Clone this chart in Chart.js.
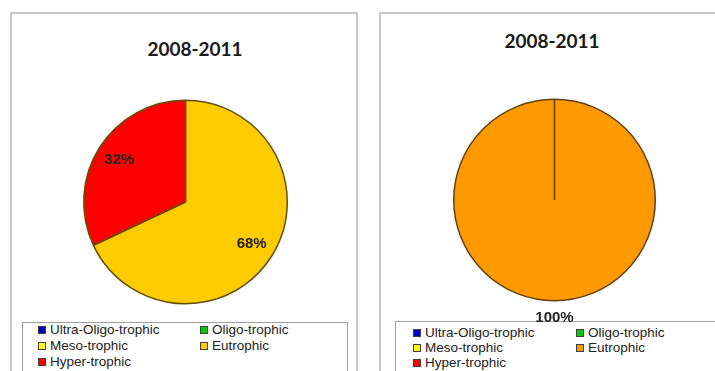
<!DOCTYPE html>
<html>
<head>
<meta charset="utf-8">
<script src="https://cdn.jsdelivr.net/npm/chart.js@4.4.0/dist/chart.umd.min.js"></script>
<style>
  body { margin: 0; background: #fff; width: 715px; height: 371px; overflow: hidden; position: relative;
         font-family: "Liberation Sans", Arial, sans-serif; }
  .panel { position: absolute; border: 2px solid #c8c8c8; background: #fff; box-sizing: border-box; }
  .title { position: absolute; font: bold 19px Lato, sans-serif; color: #1a1a1a;
           transform: translate(-50%, -50%); white-space: nowrap; }
  .legend { position: absolute; border: 1px solid #a0a0a0; background: #fff; box-sizing: border-box; }
  .item { position: absolute; font-size: 13.5px; line-height: 16px; color: #222; white-space: nowrap; }
  .item i { position: absolute; left: -12px; top: 4px; width: 6px; height: 6px; border: 1px solid #404040; }
  canvas { position: absolute; top: 0; }
</style>
</head>
<body>
<div class="panel" style="left:10px;top:12px;width:348px;height:400px"></div>
<div class="panel" style="left:379px;top:12px;width:400px;height:400px"></div>
<div class="legend" style="left:22px;top:322px;width:326px;height:70px"></div>
<div class="legend" style="left:395px;top:321px;width:340px;height:70px"></div>
<div class="title" style="left:195px;top:48px">2008-2011</div>
<div class="title" style="left:552px;top:40px">2008-2011</div>
<div id="legendLeft"></div>
<div id="legendRight"></div>
<canvas id="chartLeft" width="360" height="371" style="left:0"></canvas>
<canvas id="chartRight" width="355" height="371" style="left:360px"></canvas>

<script>
// dados
const categories = ['Ultra-Oligo-trophic', 'Oligo-trophic', 'Meso-trophic', 'Eutrophic', 'Hyper-trophic'];
const valuesLeft = [0, 0, 0, 68, 32];
const valuesRight = [0, 0, 0, 100, 0];
const colorsLeft = ['#0000cc', '#00cc00', '#ffff00', '#ffcc00', '#ff0000'];
const colorsRight = ['#0000cc', '#00cc00', '#ffff00', '#ff9900', '#ff0000'];

// rótulos de percentagem sobre as fatias
const pctLabels = {
  id: 'pctLabels',
  afterDatasetsDraw(chart, args, opts) {
    const ctx = chart.ctx;
    const meta = chart.getDatasetMeta(0);
    const data = chart.data.datasets[0].data;
    ctx.save();
    ctx.font = 'bold 15px "Liberation Sans", Arial, sans-serif';
    ctx.fillStyle = '#222';
    ctx.textAlign = 'center';
    ctx.textBaseline = 'middle';
    meta.data.forEach((arc, i) => {
      if (!data[i]) return;
      const p = arc.getProps(['x', 'y', 'startAngle', 'endAngle', 'outerRadius'], true);
      const mid = (p.startAngle + p.endAngle) / 2;
      const r = opts.outside ? p.outerRadius + opts.gap : p.outerRadius * opts.ratio;
      ctx.fillText(data[i] + '%', p.x + Math.cos(mid) * r, p.y + Math.sin(mid) * r);
    });
    ctx.restore();
  }
};

function makePie(id, values, colors, border, padding, labelOpts) {
  return new Chart(document.getElementById(id), {
    type: 'pie',
    data: {
      labels: categories,
      datasets: [{
        data: values,
        backgroundColor: colors,
        borderColor: border,
        borderWidth: 1.5
      }]
    },
    options: {
      responsive: false,
      animation: false,
      layout: { padding: padding },
      plugins: {
        legend: { display: false },
        tooltip: { enabled: false },
        pctLabels: labelOpts
      }
    },
    plugins: [pctLabels]
  });
}

// legenda em duas colunas
function makeLegend(id, colors, cols, rows) {
  const el = document.getElementById(id);
  categories.forEach((name, i) => {
    const d = document.createElement('div');
    d.className = 'item';
    d.style.left = cols[i % 2] + 'px';
    d.style.top = rows[Math.floor(i / 2)] + 'px';
    d.innerHTML = '<i style="background:' + colors[i] + '"></i>' + name;
    el.appendChild(d);
  });
}

makePie('chartLeft', valuesLeft, colorsLeft, '#5e5000',
  { top: 99.5, bottom: 66.5, left: 83, right: 72 }, { ratio: 0.77 });
makePie('chartRight', valuesRight, colorsRight, '#5e4215',
  { top: 98.5, bottom: 69.5, left: 93, right: 59 }, { outside: true, gap: 17 });

makeLegend('legendLeft', colorsLeft, [50, 212], [322, 338, 354]);
makeLegend('legendRight', colorsRight, [425, 588], [325, 340, 355]);
</script>
</body>
</html>
